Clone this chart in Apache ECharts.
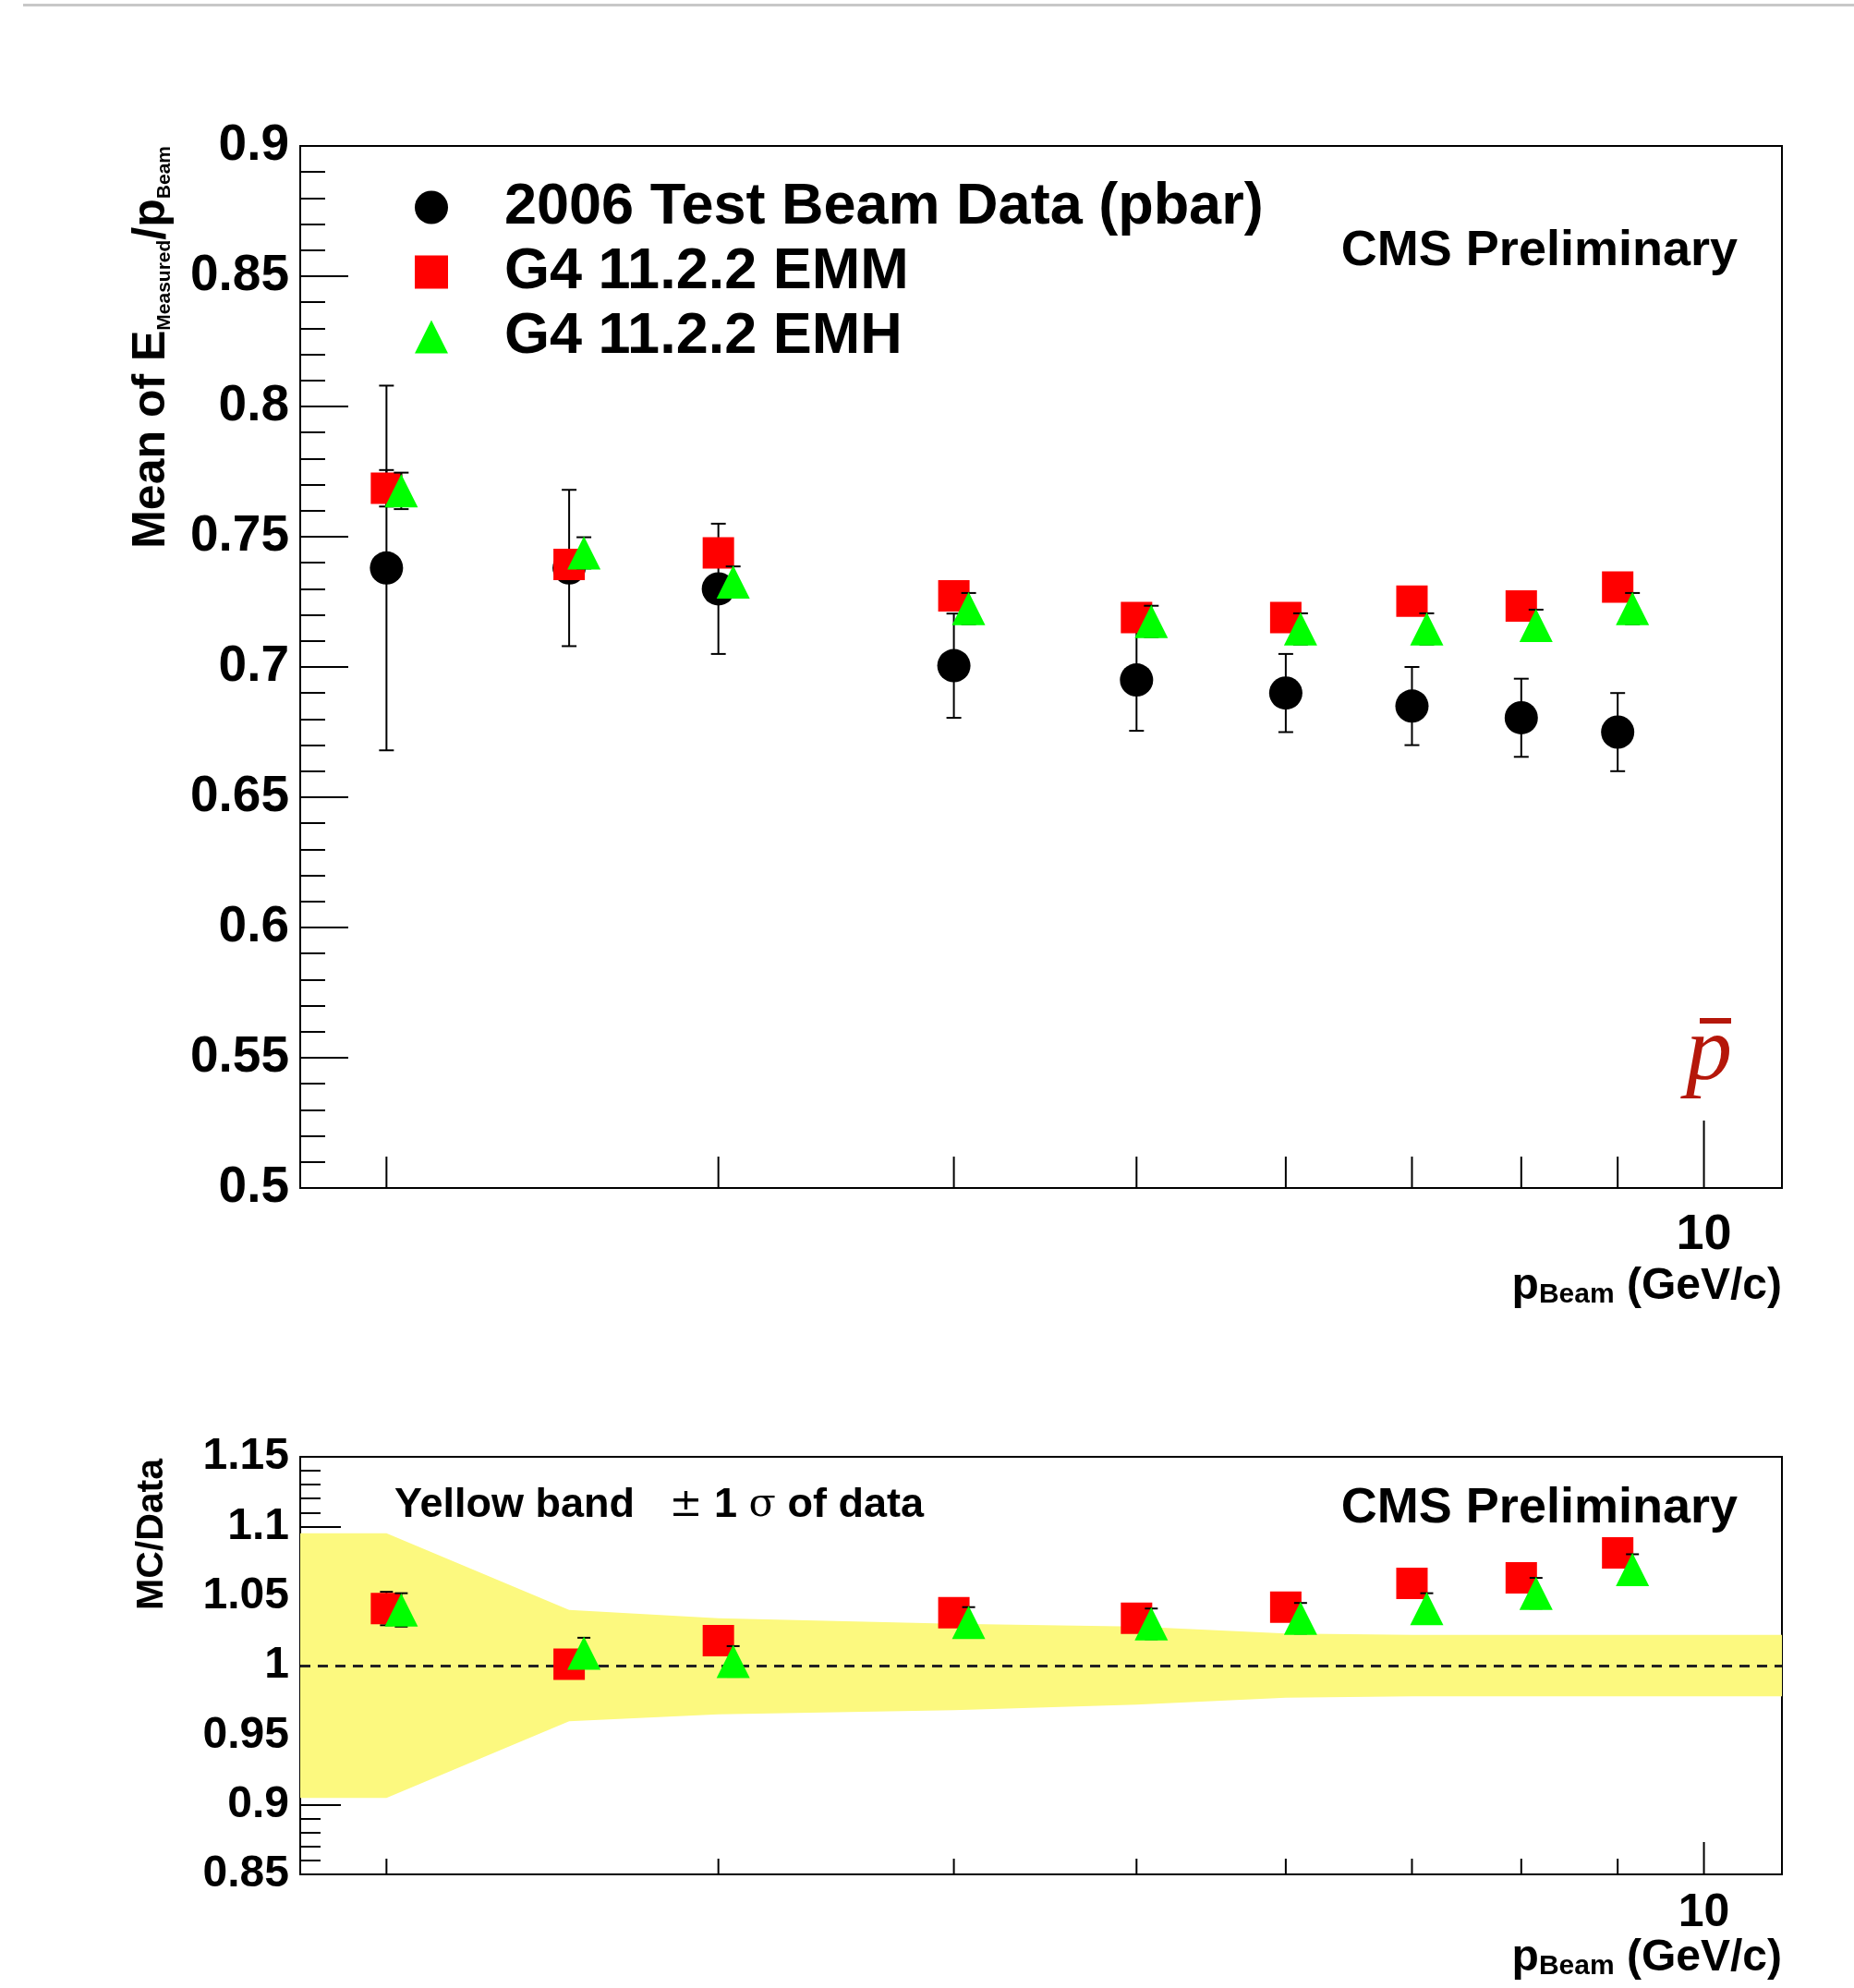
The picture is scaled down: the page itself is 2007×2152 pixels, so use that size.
<!DOCTYPE html>
<html>
<head>
<meta charset="utf-8">
<title>pbar E/p</title>
<script src="https://cdn.jsdelivr.net/npm/echarts@6/dist/echarts.min.js"></script>
<style>
html, body { margin: 0; padding: 0; background: #fff; }
#main { width: 2007px; height: 2152px; }
</style>
</head>
<body>
<div id="main"></div>
<script>
// beam momenta (GeV/c)
var pBeam = [2, 2.5, 3, 4, 5, 6, 7, 8, 9];

// mean of E_measured / p_beam
var dataMean = [0.738, 0.738, 0.730, 0.7005, 0.695, 0.690, 0.685, 0.6805, 0.675];
var dataErr  = [0.070, 0.030, 0.025, 0.020, 0.0195, 0.015, 0.015, 0.015, 0.015];
var emmMean  = [0.7686, 0.7394, 0.7438, 0.7273, 0.719, 0.719, 0.7253, 0.7234, 0.7307];
var emmErr   = [0.007, 0.005, 0.005, 0.005, 0.005, 0.005, 0.005, 0.005, 0.005];
var emhMean  = [0.7676, 0.7438, 0.7326, 0.7224, 0.7175, 0.7146, 0.7146, 0.716, 0.7224];
var emhErr   = [0.007, 0.006, 0.006, 0.006, 0.006, 0.006, 0.006, 0.006, 0.006];

// MC / Data
var emmRatio    = [1.041, 1.001, 1.018, 1.038, 1.034, 1.042, 1.059, 1.063, 1.081];
var emmRatioErr = [0.012, 0.008, 0.008, 0.008, 0.008, 0.008, 0.008, 0.008, 0.008];
var emhRatio    = [1.040, 1.009, 1.003, 1.031, 1.030, 1.034, 1.041, 1.052, 1.069];
var emhRatioErr = [0.012, 0.011, 0.011, 0.011, 0.011, 0.011, 0.011, 0.011, 0.011];

// yellow band: +-1 sigma of data
var bandX  = [1.8, 2, 2.5, 3, 4, 5, 6, 7, 8, 9, 11];
var bandHi = [1.095, 1.095, 1.040, 1.034, 1.030, 1.028, 1.023, 1.022, 1.022, 1.022, 1.022];
var bandLo = [0.905, 0.905, 0.960, 0.965, 0.968, 0.972, 0.977, 0.978, 0.978, 0.978, 0.978];

// x axis tick positions (log axis)
var xTicks = [2, 3, 4, 5, 6, 7, 8, 9, 10];

var FONT = 'Liberation Sans';
var chart = echarts.init(document.getElementById('main'));

function zip() {
  var cols = arguments;
  return cols[0].map(function (v, i) {
    return Array.prototype.map.call(cols, function (c) { return c[i]; });
  });
}

// vertical error bars with caps, dx = pixel shift of the marker
function errorBars(dx, cap) {
  return function (params, api) {
    var x = api.value(0), y = api.value(1), e = api.value(2);
    var hi = api.coord([x, y + e]);
    var lo = api.coord([x, y - e]);
    var cx = hi[0] + dx;
    var st = { stroke: '#000', lineWidth: 2 };
    return {
      type: 'group',
      children: [
        { type: 'line', shape: { x1: cx, y1: hi[1], x2: cx, y2: lo[1] }, style: st },
        { type: 'line', shape: { x1: cx - cap, y1: hi[1], x2: cx + cap, y2: hi[1] }, style: st },
        { type: 'line', shape: { x1: cx - cap, y1: lo[1], x2: cx + cap, y2: lo[1] }, style: st }
      ]
    };
  };
}

// ticks drawn upward from the bottom frame, longer one at 10
function tickMarks(minorLen, majorLen) {
  return function (params, api) {
    var v = api.value(0);
    var pt = api.coord([v, api.value(1)]);
    var len = Math.abs(v - 10) < 1e-6 ? majorLen : minorLen;
    return {
      type: 'line',
      shape: { x1: pt[0], y1: pt[1], x2: pt[0], y2: pt[1] - len },
      style: { stroke: '#000', lineWidth: 2 }
    };
  };
}

function bandShape(params, api) {
  var pts = [];
  for (var i = 0; i < bandX.length; i++) pts.push(api.coord([bandX[i], bandHi[i]]));
  for (var j = bandX.length - 1; j >= 0; j--) pts.push(api.coord([bandX[j], bandLo[j]]));
  return { type: 'polygon', shape: { points: pts }, style: { fill: '#fcf97f' } };
}

function xAxisCfg(grid, size, margin) {
  return {
    gridIndex: grid, type: 'log', logBase: 10, min: 1.8, max: 11,
    axisLine: { show: false }, axisTick: { show: false }, splitLine: { show: false },
    axisLabel: {
      color: '#000', fontFamily: FONT, fontWeight: 'bold', fontSize: size, margin: margin,
      formatter: function (v) { return Math.abs(v - 10) < 1e-6 ? '10' : ''; }
    }
  };
}

function yAxisCfg(grid, min, max, size, majorLen, minorLen) {
  return {
    gridIndex: grid, type: 'value', min: min, max: max, interval: 0.05,
    axisLine: { show: false }, splitLine: { show: false },
    axisTick: { show: true, inside: true, length: majorLen, lineStyle: { color: '#000', width: 2 } },
    minorTick: { show: true, splitNumber: 5, length: minorLen, lineStyle: { color: '#000', width: 2 } },
    axisLabel: { color: '#000', fontFamily: FONT, fontWeight: 'bold', fontSize: size, margin: 12 }
  };
}

var subRich = {
  m: { fontFamily: FONT, fontWeight: 'bold', fontSize: 48, lineHeight: 70, verticalAlign: 'bottom', fill: '#000' },
  s: { fontFamily: FONT, fontWeight: 'bold', fontSize: 30, lineHeight: 10, verticalAlign: 'bottom', fill: '#000' }
};
var yRich = {
  m: { fontFamily: FONT, fontWeight: 'bold', fontSize: 50, lineHeight: 60, verticalAlign: 'bottom', fill: '#000' },
  s: { fontFamily: FONT, fontWeight: 'bold', fontSize: 21, lineHeight: 14, verticalAlign: 'bottom', fill: '#000' }
};

var option = {
  backgroundColor: '#fff',
  animation: false,
  grid: [
    { left: 325, top: 158, width: 1604, height: 1128, show: true, borderColor: '#000', borderWidth: 2, backgroundColor: 'transparent' },
    { left: 325, top: 1577, width: 1604, height: 452, show: true, borderColor: '#000', borderWidth: 2, backgroundColor: 'transparent' }
  ],
  xAxis: [xAxisCfg(0, 54, 24), xAxisCfg(1, 50, 17)],
  yAxis: [yAxisCfg(0, 0.5, 0.9, 55, 52, 27), yAxisCfg(1, 0.85, 1.15, 48, 44, 22)],
  legend: {
    data: ['2006 Test Beam Data (pbar)', 'G4 11.2.2 EMM', 'G4 11.2.2 EMH'],
    orient: 'vertical', left: 444, top: 188, itemWidth: 36, itemHeight: 36, itemGap: 7,
    selectedMode: false,
    textStyle: { color: '#000', fontFamily: FONT, fontWeight: 'bold', fontSize: 63, lineHeight: 62, padding: [0, 0, 0, 56] }
  },
  series: [
    // top panel
    { type: 'custom', xAxisIndex: 0, yAxisIndex: 0, renderItem: tickMarks(34, 73), silent: true,
      data: xTicks.map(function (t) { return [t, 0.5]; }), encode: { x: 0, y: 1 }, z: 1 },
    { type: 'custom', xAxisIndex: 0, yAxisIndex: 0, renderItem: errorBars(0, 8), silent: true,
      data: zip(pBeam, dataMean, dataErr), encode: { x: 0, y: 1 }, z: 2 },
    { type: 'scatter', name: '2006 Test Beam Data (pbar)', xAxisIndex: 0, yAxisIndex: 0,
      data: zip(pBeam, dataMean), symbol: 'circle', symbolSize: 36, itemStyle: { color: '#000', opacity: 1 }, z: 3 },
    { type: 'custom', xAxisIndex: 0, yAxisIndex: 0, renderItem: errorBars(0, 8), silent: true,
      data: zip(pBeam, emmMean, emmErr), encode: { x: 0, y: 1 }, z: 4 },
    { type: 'scatter', name: 'G4 11.2.2 EMM', xAxisIndex: 0, yAxisIndex: 0,
      data: zip(pBeam, emmMean), symbol: 'rect', symbolSize: 34, itemStyle: { color: '#ff0000', opacity: 1 }, z: 5 },
    { type: 'custom', xAxisIndex: 0, yAxisIndex: 0, renderItem: errorBars(16, 8), silent: true,
      data: zip(pBeam, emhMean, emhErr), encode: { x: 0, y: 1 }, z: 6 },
    { type: 'scatter', name: 'G4 11.2.2 EMH', xAxisIndex: 0, yAxisIndex: 0,
      data: zip(pBeam, emhMean), symbol: 'triangle', symbolSize: 36, symbolOffset: [16, 0],
      itemStyle: { color: '#00ff00', opacity: 1 }, z: 7 },

    // bottom panel
    { type: 'custom', xAxisIndex: 1, yAxisIndex: 1, renderItem: bandShape, silent: true,
      data: [[bandX[0], bandHi[0]]], encode: { x: 0, y: 1 }, z: 1 },
    { type: 'custom', xAxisIndex: 1, yAxisIndex: 1, renderItem: tickMarks(17, 35), silent: true,
      data: xTicks.map(function (t) { return [t, 0.85]; }), encode: { x: 0, y: 1 }, z: 2 },
    { type: 'custom', xAxisIndex: 1, yAxisIndex: 1, renderItem: errorBars(0, 7), silent: true,
      data: zip(pBeam, emmRatio, emmRatioErr), encode: { x: 0, y: 1 }, z: 4 },
    { type: 'scatter', name: 'EMM/Data', xAxisIndex: 1, yAxisIndex: 1,
      data: zip(pBeam, emmRatio), symbol: 'rect', symbolSize: 34, itemStyle: { color: '#ff0000', opacity: 1 }, z: 5,
      markLine: {
        silent: true, symbol: 'none', label: { show: false },
        lineStyle: { color: '#222', width: 3, type: [11, 8] },
        data: [{ yAxis: 1 }]
      } },
    { type: 'custom', xAxisIndex: 1, yAxisIndex: 1, renderItem: errorBars(16, 7), silent: true,
      data: zip(pBeam, emhRatio, emhRatioErr), encode: { x: 0, y: 1 }, z: 6 },
    { type: 'scatter', name: 'EMH/Data', xAxisIndex: 1, yAxisIndex: 1,
      data: zip(pBeam, emhRatio), symbol: 'triangle', symbolSize: 36, symbolOffset: [16, 0],
      itemStyle: { color: '#00ff00', opacity: 1 }, z: 7 }
  ],
  graphic: [
    // thin grey rule at the very top of the page
    { type: 'rect', shape: { x: 25, y: 4, width: 1982, height: 3 }, style: { fill: '#c8c8c8' } },
    { type: 'text', x: 1881, y: 272, style: { text: 'CMS Preliminary', align: 'right', verticalAlign: 'middle',
      fontFamily: FONT, fontWeight: 'bold', fontSize: 54, fill: '#000' } },
    { type: 'text', x: 1881, y: 1633, style: { text: 'CMS Preliminary', align: 'right', verticalAlign: 'middle',
      fontFamily: FONT, fontWeight: 'bold', fontSize: 54, fill: '#000' } },
    { type: 'text', x: 427, y: 1630, style: {
      text: '{b|Yellow band   }{g|±}{b| 1 }{g|σ}{b| of data}', align: 'left', verticalAlign: 'middle',
      rich: {
        b: { fontFamily: FONT, fontWeight: 'bold', fontSize: 45, fill: '#000' },
        g: { fontFamily: 'DejaVu Serif', fontSize: 43, fill: '#000' }
      } } },
    // pbar label
    { type: 'text', x: 1850, y: 1142, style: { text: 'p', align: 'center', verticalAlign: 'middle',
      fontFamily: 'Liberation Serif', fontStyle: 'italic', fontSize: 100, fill: '#b5170a' } },
    { type: 'rect', shape: { x: 1840, y: 1102, width: 34, height: 6 }, style: { fill: '#b5170a' } },
    // axis titles
    { type: 'text', x: 159, y: 158, rotation: Math.PI / 2, style: {
      text: '{m|Mean of E}{s|Measured}{m|/p}{s|Beam}', align: 'right', verticalAlign: 'middle', rich: yRich } },
    { type: 'text', x: 165, y: 1579, rotation: Math.PI / 2, style: {
      text: 'MC/Data', align: 'right', verticalAlign: 'middle',
      fontFamily: FONT, fontWeight: 'bold', fontSize: 41, fill: '#000' } },
    { type: 'text', x: 1929, y: 1382, style: {
      text: '{m|p}{s|Beam}{m| (GeV/c)}', align: 'right', verticalAlign: 'middle', rich: subRich } },
    { type: 'text', x: 1929, y: 2109, style: {
      text: '{m|p}{s|Beam}{m| (GeV/c)}', align: 'right', verticalAlign: 'middle', rich: subRich } }
  ]
};

chart.setOption(option);
</script>
</body>
</html>
